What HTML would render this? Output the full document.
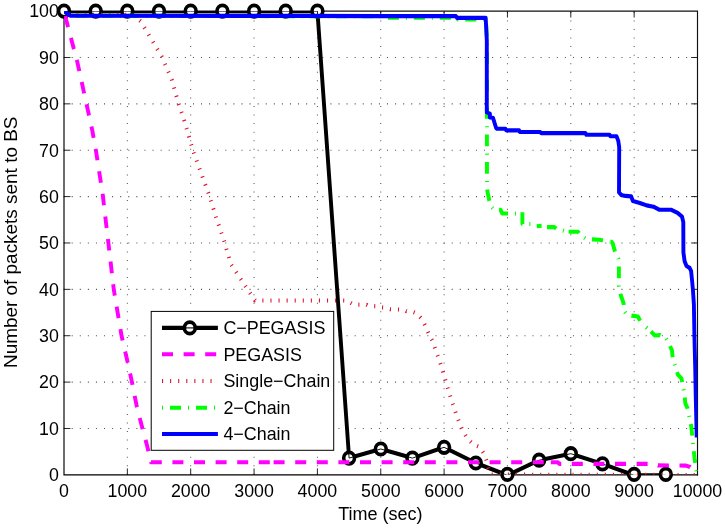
<!DOCTYPE html>
<html lang="en"><head><meta charset="utf-8"><title>Number of packets sent to BS</title>
<style>
html,body{margin:0;padding:0;background:#fff;}
body{width:725px;height:528px;overflow:hidden;}
svg{display:block;}
text{font-family:"Liberation Sans",sans-serif;font-size:18px;fill:#000;}
.tk text{font-size:17.8px;}
.grid line{stroke:#000;stroke-width:1;}
.ln{fill:none;stroke-width:3.9;stroke-linejoin:round;}
.mk{fill:none;stroke:#000;stroke-width:3.6;}
</style></head><body>
<svg width="725" height="528" viewBox="0 0 725 528">
<defs><clipPath id="ax"><rect x="64.0" y="10.52" width="633.5" height="439.57"/></clipPath></defs>
<rect x="0" y="0" width="725" height="528" fill="#fff"/>
<g transform="scale(1 1.055)">
<g class="grid" opacity="0.7">
<line x1="127.35" y1="11.28" x2="127.35" y2="450.09" stroke-dasharray="0.95 7.158"/>
<line x1="190.70" y1="11.28" x2="190.70" y2="450.09" stroke-dasharray="0.95 7.158"/>
<line x1="254.05" y1="11.28" x2="254.05" y2="450.09" stroke-dasharray="0.95 7.158"/>
<line x1="317.40" y1="11.28" x2="317.40" y2="450.09" stroke-dasharray="0.95 7.158"/>
<line x1="380.75" y1="11.28" x2="380.75" y2="450.09" stroke-dasharray="0.95 7.158"/>
<line x1="444.10" y1="11.28" x2="444.10" y2="450.09" stroke-dasharray="0.95 7.158"/>
<line x1="507.45" y1="11.28" x2="507.45" y2="450.09" stroke-dasharray="0.95 7.158"/>
<line x1="570.80" y1="11.28" x2="570.80" y2="450.09" stroke-dasharray="0.95 7.158"/>
<line x1="634.15" y1="11.28" x2="634.15" y2="450.09" stroke-dasharray="0.95 7.158"/>
<line x1="63.6" y1="406.14" x2="697.5" y2="406.14" stroke-dasharray="1 7.085"/>
<line x1="63.6" y1="362.18" x2="697.5" y2="362.18" stroke-dasharray="1 7.085"/>
<line x1="63.6" y1="318.22" x2="697.5" y2="318.22" stroke-dasharray="1 7.085"/>
<line x1="63.6" y1="274.27" x2="697.5" y2="274.27" stroke-dasharray="1 7.085"/>
<line x1="63.6" y1="230.31" x2="697.5" y2="230.31" stroke-dasharray="1 7.085"/>
<line x1="63.6" y1="186.35" x2="697.5" y2="186.35" stroke-dasharray="1 7.085"/>
<line x1="63.6" y1="142.39" x2="697.5" y2="142.39" stroke-dasharray="1 7.085"/>
<line x1="63.6" y1="98.44" x2="697.5" y2="98.44" stroke-dasharray="1 7.085"/>
<line x1="63.6" y1="54.48" x2="697.5" y2="54.48" stroke-dasharray="1 7.085"/>
</g></g>
<g stroke="#000" stroke-width="1.15" fill="none" stroke-linecap="square">
<path d="M64.0 11.1V474.85H697.5"/><path d="M64.0 11.1H697.5V474.85" stroke="#111"/>
</g>
<g stroke="#000" stroke-width="1" fill="none" opacity="0.85">
<path d="M127.35 474.85v-6.4M127.35 11.1v6.4"/>
<path d="M190.70 474.85v-6.4M190.70 11.1v6.4"/>
<path d="M254.05 474.85v-6.4M254.05 11.1v6.4"/>
<path d="M317.40 474.85v-6.4M317.40 11.1v6.4"/>
<path d="M380.75 474.85v-6.4M380.75 11.1v6.4"/>
<path d="M444.10 474.85v-6.4M444.10 11.1v6.4"/>
<path d="M507.45 474.85v-6.4M507.45 11.1v6.4"/>
<path d="M570.80 474.85v-6.4M570.80 11.1v6.4"/>
<path d="M634.15 474.85v-6.4M634.15 11.1v6.4"/>
<path d="M64.0 428.48h6.4M697.5 428.48h-6.4"/>
<path d="M64.0 382.10h6.4M697.5 382.10h-6.4"/>
<path d="M64.0 335.73h6.4M697.5 335.73h-6.4"/>
<path d="M64.0 289.35h6.4M697.5 289.35h-6.4"/>
<path d="M64.0 242.98h6.4M697.5 242.98h-6.4"/>
<path d="M64.0 196.60h6.4M697.5 196.60h-6.4"/>
<path d="M64.0 150.23h6.4M697.5 150.23h-6.4"/>
<path d="M64.0 103.85h6.4M697.5 103.85h-6.4"/>
<path d="M64.0 57.48h6.4M697.5 57.48h-6.4"/>
</g>
<g transform="scale(1 1.055)">
<g clip-path="url(#ax)">
<polyline class="ln" stroke="#000" stroke-width="3.7" points="64.0,10.52 95.7,10.52 127.3,10.52 159.0,10.52 190.7,10.52 222.4,10.52 254.1,10.52 285.7,10.52 317.4,10.52 349.1,434.22 380.8,425.59 412.4,434.22 444.1,423.98 475.8,438.86 507.4,450.52 539.1,436.21 570.8,430.05 602.5,439.72 634.1,450.52 665.8,450.52"/>
</g>
<g class="mk" style="fill:#fff">
<circle cx="64.0" cy="10.52" r="5.4"/>
<circle cx="95.7" cy="10.52" r="5.4"/>
<circle cx="127.3" cy="10.52" r="5.4"/>
<circle cx="159.0" cy="10.52" r="5.4"/>
<circle cx="190.7" cy="10.52" r="5.4"/>
<circle cx="222.4" cy="10.52" r="5.4"/>
<circle cx="254.1" cy="10.52" r="5.4"/>
<circle cx="285.7" cy="10.52" r="5.4"/>
<circle cx="317.4" cy="10.52" r="5.4"/>
<circle cx="349.1" cy="434.22" r="5.4"/>
<circle cx="380.8" cy="425.59" r="5.4"/>
<circle cx="412.4" cy="434.22" r="5.4"/>
<circle cx="444.1" cy="423.98" r="5.4"/>
<circle cx="475.8" cy="438.86" r="5.4"/>
<circle cx="507.4" cy="449.67" r="5.4"/>
<circle cx="539.1" cy="436.21" r="5.4"/>
<circle cx="570.8" cy="430.05" r="5.4"/>
<circle cx="602.5" cy="439.72" r="5.4"/>
<circle cx="634.1" cy="449.67" r="5.4"/>
<circle cx="665.8" cy="449.67" r="5.4"/>
</g>
<g clip-path="url(#ax)">
<polyline fill="none" stroke="#000" stroke-width="0.9" points="64.0,10.52 95.7,10.52 127.3,10.52 159.0,10.52 190.7,10.52 222.4,10.52 254.1,10.52 285.7,10.52 317.4,10.52 349.1,434.22 380.8,425.59 412.4,434.22 444.1,423.98 475.8,438.86 507.4,450.52 539.1,436.21 570.8,430.05 602.5,439.72 634.1,450.52 665.8,450.52"/>
<polyline class="ln" stroke="#f0f" stroke-dasharray="11 10.6" stroke-dashoffset="17.0" stroke-linejoin="miter" points="64.2,10.62 66.2,18.96 77.3,58.77 92.2,123.22 96.0,143.13 102.7,184.36 108.4,230.33 113.8,274.60 121.5,318.10 127.5,342.75 132.0,362.37 136.9,385.97 142.4,405.97 147.4,423.60 151.0,438.10 273.6,438.10"/>
<polyline class="ln" stroke="#f0f" stroke-dasharray="11 10.6" points="273.6,438.10 549.0,438.10"/>
<polyline class="ln" stroke="#f0f" stroke-dasharray="11 10.6" points="550.8,438.10 557.5,438.10 559.5,439.72 655.0,439.72 658.0,441.14 686.0,441.33 690.0,442.65 697.5,449.76"/>
<polyline class="ln" stroke="#dc1a2e" stroke-width="4.2" stroke-dasharray="1.1 6.98" stroke-dashoffset="3.6" points="64.2,14.03 128.0,14.03 134.4,14.79 140.6,20.00 161.7,53.65 171.7,75.26 178.4,97.63 184.1,113.74 193.3,143.60 208.9,184.36 216.1,206.07 224.1,228.44 231.0,250.71 241.0,264.83 250.9,278.96 255.1,284.83 342.8,284.83 346.5,284.93 353.5,288.72 366.5,288.91 368.5,290.05 375.5,290.24 377.5,291.28 384.0,291.47 390.0,293.08 403.5,293.46 406.5,295.07 413.0,295.55 417.0,297.16 421.9,302.56 425.7,309.67 428.9,316.68 433.1,324.17 435.6,331.75 438.6,339.53 441.3,347.01 443.8,354.79 446.0,362.37 448.5,370.14 451.0,377.82 457.2,395.45 462.2,407.30 467.2,415.45 473.4,421.33 479.6,423.70 484.5,430.81 487.0,437.91 488.3,443.60 490.8,449.86 697.5,450.24"/>
<polyline class="ln" stroke="#0f0" stroke-dasharray="11.1 6.95 1 6.95" stroke-dashoffset="13" stroke-linejoin="miter" points="64.2,10.81 70.6,14.88 380.0,15.45 384.0,16.68 456.0,16.68 458.0,18.39 486.0,18.39 486.9,37.91 486.9,107.11 487.0,178.20 487.4,181.23 489.3,190.05 491.2,195.92 494.0,198.86 500.5,198.86 502.3,202.37 521.0,202.37"/>
<polyline class="ln" stroke="#0f0" stroke-dasharray="11.1 6.95 1 6.95" stroke-dashoffset="1.4" stroke-linejoin="miter" points="547.0,215.26 554.4,215.26 556.3,216.68 562.5,218.39 566.0,219.62 568.4,219.62"/>
<polyline class="ln" stroke="#0f0" stroke-dasharray="11.1 6.95 1 6.95" stroke-linejoin="miter" points="522.4,201.23 522.4,212.32 533.0,212.32 536.5,214.41 541.6,214.03"/>
<polyline class="ln" stroke="#0f0" stroke-dasharray="11.1 6.95 1 6.95" stroke-linejoin="miter" points="568.6,219.62 578.0,219.62 580.0,222.27 583.3,224.74 586.0,226.54 599.7,227.30 606.1,228.44 610.2,229.10"/>
<polyline class="ln" stroke="#0f0" stroke-dasharray="11.1 6.95 1 6.95" stroke-linejoin="miter" points="610.5,229.10 611.5,229.19 612.7,230.81 615.2,239.05 618.3,244.93 618.9,248.34 618.9,271.09 620.5,278.86 623.6,287.68 624.6,295.36 627.0,298.58 637.9,300.00 641.6,306.73 644.5,309.00"/>
<polyline class="ln" stroke="#0f0" stroke-dasharray="11.1 6.95 1 6.95" stroke-linejoin="miter" points="650.9,314.31 654.9,318.01 659.8,317.63 665.1,319.15 668.3,324.45 672.0,332.13 672.8,340.38 675.0,346.26 677.8,355.07 681.5,358.67 682.8,365.40 684.6,374.79 685.3,382.27 687.7,387.20 689.6,396.59 691.2,403.79 692.2,412.32 694.5,433.84 696.4,446.82 697.2,449.76"/>
<polyline class="ln" stroke="#0f0" points="646.1,310.24 647.1,311.00"/>
<polyline class="ln" stroke="#00f" points="64.2,10.81 70.6,14.88 300.0,15.07 380.0,15.26 455.9,15.26 457.0,16.97 485.7,16.97 486.8,37.91 486.8,106.54 489.9,107.68 489.9,111.28 493.0,111.66 496.1,121.23 497.0,122.09 505.4,122.09 506.2,123.60 519.1,123.60 519.9,125.12 540.2,125.12 541.0,126.16 585.4,126.16 586.4,127.77 609.6,127.77 610.4,129.19 616.5,129.19 618.3,133.65 619.2,139.53 619.0,182.37 621.2,184.74 625.5,185.69 631.1,186.16 633.0,190.62 639.8,192.42 646.6,194.69 653.4,195.92 659.6,198.86 671.4,198.86 677.6,201.80 682.0,205.31 683.3,210.62 683.4,239.24 684.6,247.49 686.5,252.13 689.6,253.93 691.1,256.87 692.1,266.26 692.9,274.50 693.9,288.63 694.4,317.73 695.2,347.68 695.7,373.46 696.7,414.69"/>
</g></g>
<g class="tk">
<text x="64.0" y="497.3" text-anchor="middle">0</text>
<text x="127.3" y="497.3" text-anchor="middle">1000</text>
<text x="190.7" y="497.3" text-anchor="middle">2000</text>
<text x="254.1" y="497.3" text-anchor="middle">3000</text>
<text x="317.4" y="497.3" text-anchor="middle">4000</text>
<text x="380.8" y="497.3" text-anchor="middle">5000</text>
<text x="444.1" y="497.3" text-anchor="middle">6000</text>
<text x="507.4" y="497.3" text-anchor="middle">7000</text>
<text x="570.8" y="497.3" text-anchor="middle">8000</text>
<text x="634.1" y="497.3" text-anchor="middle">9000</text>
<text x="697.5" y="497.3" text-anchor="middle">10000</text>
<text x="58.9" y="481.2" text-anchor="end">0</text>
<text x="58.9" y="434.8" text-anchor="end">10</text>
<text x="58.9" y="388.4" text-anchor="end">20</text>
<text x="58.9" y="342.0" text-anchor="end">30</text>
<text x="58.9" y="295.7" text-anchor="end">40</text>
<text x="58.9" y="249.3" text-anchor="end">50</text>
<text x="58.9" y="202.9" text-anchor="end">60</text>
<text x="58.9" y="156.5" text-anchor="end">70</text>
<text x="58.9" y="110.2" text-anchor="end">80</text>
<text x="58.9" y="63.8" text-anchor="end">90</text>
<text x="58.9" y="17.4" text-anchor="end">100</text>
</g>
<text x="380.4" y="519.8" text-anchor="middle">Time (sec)</text>
<text transform="translate(17.4,242.3) rotate(-90) scale(1.052 1)" text-anchor="middle">Number of packets sent to BS</text>
<rect x="151.2" y="311.4" width="182.5" height="138.9" fill="#fff" stroke="#000" stroke-width="1"/>
<g transform="scale(1 1.055)">
<path class="ln" stroke="#000" d="M162.0 310.81H217.9"/><circle class="mk" style="fill:#fff" cx="189.8" cy="310.81" r="5.4"/><path stroke="#000" stroke-width="1" d="M185 310.81h10"/>
<path class="ln" stroke="#f0f" stroke-dasharray="11 10.6" d="M162.0 335.83H217.9"/>
<path class="ln" stroke="#dc1a2e" stroke-width="4.2" stroke-dasharray="1.1 6.98" d="M162.0 361.14H217.9"/>
<path class="ln" stroke="#0f0" stroke-dasharray="1 6.95 11.1 6.95" d="M162.0 386.45H217.9"/>
<path class="ln" stroke="#00f" d="M162.0 411.37H217.9"/>
</g>
<text x="223.4" y="334.1" style="font-size:17.9px">C−PEGASIS</text>
<text x="223.4" y="360.5" style="font-size:17.9px">PEGASIS</text>
<text x="223.4" y="387.2" style="font-size:17.9px">Single−Chain</text>
<text x="223.4" y="413.9" style="font-size:17.9px">2−Chain</text>
<text x="223.4" y="440.2" style="font-size:17.9px">4−Chain</text>
</svg></body></html>
